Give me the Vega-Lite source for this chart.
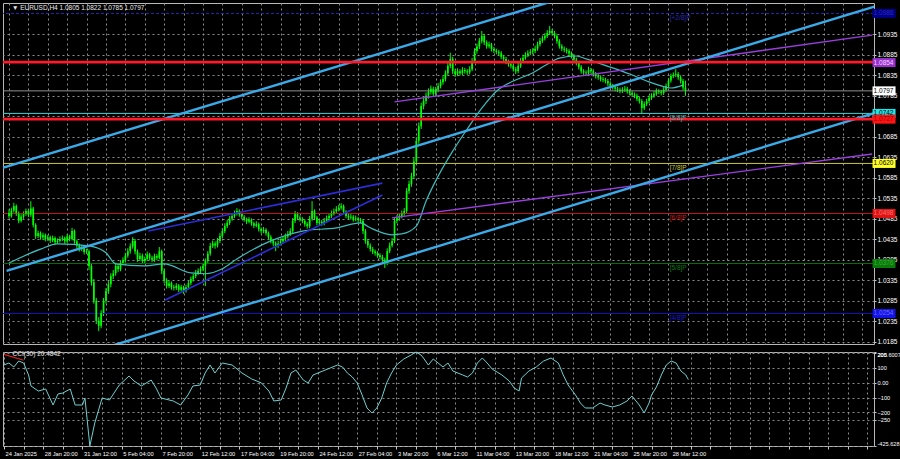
{
"$schema":"https://vega.github.io/schema/vega-lite/v6.json",
"background":"#000000",
"padding":{"left":1,"top":2,"right":0,"bottom":1},
"spacing":3,
"config":{"view":{"stroke":"#b8b8b8","strokeWidth":1},"font":"Liberation Sans","axis":{"labelColor":"#ffffff","labelFont":"Liberation Sans","labelFontSize":6.5,"domain":false,"gridColor":"#8c8c8c","gridDash":[2,3],"gridWidth":1,"tickColor":"#c8c8c8","labelOverlap":false,"labelBound":false}},
"datasets":{
"candles":[
{"i":0,"o":1.0500,"h":1.0508,"l":1.0486,"c":1.0492},{"i":1,"o":1.0492,"h":1.0512,"l":1.0488,"c":1.0505},{"i":2,"o":1.0505,"h":1.0524,"l":1.0500,"c":1.0516},{"i":3,"o":1.0516,"h":1.0520,"l":1.0492,"c":1.0498},{"i":4,"o":1.0498,"h":1.0503,"l":1.0474,"c":1.0480},{"i":5,"o":1.0480,"h":1.0496,"l":1.0476,"c":1.0490},{"i":6,"o":1.0490,"h":1.0503,"l":1.0485,"c":1.0497},{"i":7,"o":1.0497,"h":1.0510,"l":1.0492,"c":1.0504},{"i":8,"o":1.0504,"h":1.0508,"l":1.0489,"c":1.0495},{"i":9,"o":1.0495,"h":1.0528,"l":1.0490,"c":1.0510},
{"i":10,"o":1.0510,"h":1.0514,"l":1.0464,"c":1.0470},{"i":11,"o":1.0470,"h":1.0474,"l":1.0436,"c":1.0443},{"i":12,"o":1.0443,"h":1.0456,"l":1.0438,"c":1.0450},{"i":13,"o":1.0450,"h":1.0454,"l":1.0434,"c":1.0440},{"i":14,"o":1.0440,"h":1.0451,"l":1.0435,"c":1.0445},{"i":15,"o":1.0445,"h":1.0449,"l":1.0430,"c":1.0436},{"i":16,"o":1.0436,"h":1.0446,"l":1.0431,"c":1.0440},{"i":17,"o":1.0440,"h":1.0444,"l":1.0426,"c":1.0432},{"i":18,"o":1.0432,"h":1.0444,"l":1.0428,"c":1.0438},{"i":19,"o":1.0438,"h":1.0442,"l":1.0422,"c":1.0428},
{"i":20,"o":1.0428,"h":1.0437,"l":1.0424,"c":1.0431},{"i":21,"o":1.0431,"h":1.0442,"l":1.0427,"c":1.0436},{"i":22,"o":1.0436,"h":1.0444,"l":1.0431,"c":1.0438},{"i":23,"o":1.0438,"h":1.0442,"l":1.0424,"c":1.0430},{"i":24,"o":1.0430,"h":1.0448,"l":1.0426,"c":1.0442},{"i":25,"o":1.0442,"h":1.0446,"l":1.0430,"c":1.0436},{"i":26,"o":1.0436,"h":1.0463,"l":1.0432,"c":1.0455},{"i":27,"o":1.0455,"h":1.0459,"l":1.0424,"c":1.0430},{"i":28,"o":1.0430,"h":1.0434,"l":1.0414,"c":1.0420},{"i":29,"o":1.0420,"h":1.0425,"l":1.0405,"c":1.0411},
{"i":30,"o":1.0411,"h":1.0421,"l":1.0406,"c":1.0415},{"i":31,"o":1.0415,"h":1.0419,"l":1.0398,"c":1.0404},{"i":32,"o":1.0404,"h":1.0412,"l":1.0399,"c":1.0406},{"i":33,"o":1.0406,"h":1.0410,"l":1.0360,"c":1.0370},{"i":34,"o":1.0370,"h":1.0376,"l":1.0322,"c":1.0330},{"i":35,"o":1.0330,"h":1.0338,"l":1.0278,"c":1.0285},{"i":36,"o":1.0285,"h":1.0292,"l":1.0228,"c":1.0236},{"i":37,"o":1.0236,"h":1.0245,"l":1.0211,"c":1.0224},{"i":38,"o":1.0224,"h":1.0262,"l":1.0218,"c":1.0255},{"i":39,"o":1.0255,"h":1.0292,"l":1.0248,"c":1.0285},
{"i":40,"o":1.0285,"h":1.0316,"l":1.0278,"c":1.0309},{"i":41,"o":1.0309,"h":1.0333,"l":1.0302,"c":1.0325},{"i":42,"o":1.0325,"h":1.0352,"l":1.0318,"c":1.0345},{"i":43,"o":1.0345,"h":1.0360,"l":1.0338,"c":1.0352},{"i":44,"o":1.0352,"h":1.0378,"l":1.0346,"c":1.0370},{"i":45,"o":1.0370,"h":1.0376,"l":1.0355,"c":1.0362},{"i":46,"o":1.0362,"h":1.0384,"l":1.0357,"c":1.0377},{"i":47,"o":1.0377,"h":1.0391,"l":1.0372,"c":1.0384},{"i":48,"o":1.0384,"h":1.0402,"l":1.0378,"c":1.0395},{"i":49,"o":1.0395,"h":1.0413,"l":1.0390,"c":1.0406},
{"i":50,"o":1.0406,"h":1.0425,"l":1.0400,"c":1.0418},{"i":51,"o":1.0418,"h":1.0440,"l":1.0412,"c":1.0431},{"i":52,"o":1.0431,"h":1.0436,"l":1.0398,"c":1.0405},{"i":53,"o":1.0405,"h":1.0410,"l":1.0380,"c":1.0387},{"i":54,"o":1.0387,"h":1.0402,"l":1.0382,"c":1.0395},{"i":55,"o":1.0395,"h":1.0400,"l":1.0376,"c":1.0382},{"i":56,"o":1.0382,"h":1.0393,"l":1.0377,"c":1.0387},{"i":57,"o":1.0387,"h":1.0405,"l":1.0382,"c":1.0398},{"i":58,"o":1.0398,"h":1.0402,"l":1.0384,"c":1.0390},{"i":59,"o":1.0390,"h":1.0395,"l":1.0379,"c":1.0385},
{"i":60,"o":1.0385,"h":1.0400,"l":1.0380,"c":1.0394},{"i":61,"o":1.0394,"h":1.0399,"l":1.0384,"c":1.0390},{"i":62,"o":1.0390,"h":1.0416,"l":1.0386,"c":1.0406},{"i":63,"o":1.0406,"h":1.0410,"l":1.0350,"c":1.0358},{"i":64,"o":1.0358,"h":1.0363,"l":1.0328,"c":1.0335},{"i":65,"o":1.0335,"h":1.0340,"l":1.0315,"c":1.0321},{"i":66,"o":1.0321,"h":1.0334,"l":1.0316,"c":1.0328},{"i":67,"o":1.0328,"h":1.0332,"l":1.0312,"c":1.0318},{"i":68,"o":1.0318,"h":1.0324,"l":1.0310,"c":1.0316},{"i":69,"o":1.0316,"h":1.0328,"l":1.0311,"c":1.0322},
{"i":70,"o":1.0322,"h":1.0326,"l":1.0306,"c":1.0312},{"i":71,"o":1.0312,"h":1.0324,"l":1.0308,"c":1.0318},{"i":72,"o":1.0318,"h":1.0322,"l":1.0302,"c":1.0309},{"i":73,"o":1.0309,"h":1.0324,"l":1.0305,"c":1.0318},{"i":74,"o":1.0318,"h":1.0334,"l":1.0313,"c":1.0328},{"i":75,"o":1.0328,"h":1.0344,"l":1.0323,"c":1.0338},{"i":76,"o":1.0338,"h":1.0351,"l":1.0332,"c":1.0345},{"i":77,"o":1.0345,"h":1.0360,"l":1.0340,"c":1.0353},{"i":78,"o":1.0353,"h":1.0364,"l":1.0348,"c":1.0358},{"i":79,"o":1.0358,"h":1.0369,"l":1.0352,"c":1.0363},
{"i":80,"o":1.0363,"h":1.0376,"l":1.0357,"c":1.0370},{"i":81,"o":1.0370,"h":1.0388,"l":1.0321,"c":1.0382},{"i":82,"o":1.0382,"h":1.0406,"l":1.0377,"c":1.0400},{"i":83,"o":1.0400,"h":1.0426,"l":1.0395,"c":1.0419},{"i":84,"o":1.0419,"h":1.0432,"l":1.0414,"c":1.0425},{"i":85,"o":1.0425,"h":1.0430,"l":1.0412,"c":1.0420},{"i":86,"o":1.0420,"h":1.0438,"l":1.0415,"c":1.0431},{"i":87,"o":1.0431,"h":1.0450,"l":1.0426,"c":1.0443},{"i":88,"o":1.0443,"h":1.0462,"l":1.0438,"c":1.0455},{"i":89,"o":1.0455,"h":1.0474,"l":1.0450,"c":1.0467},
{"i":90,"o":1.0467,"h":1.0482,"l":1.0462,"c":1.0475},{"i":91,"o":1.0475,"h":1.0492,"l":1.0470,"c":1.0485},{"i":92,"o":1.0485,"h":1.0498,"l":1.0480,"c":1.0492},{"i":93,"o":1.0492,"h":1.0505,"l":1.0487,"c":1.0498},{"i":94,"o":1.0498,"h":1.0511,"l":1.0493,"c":1.0504},{"i":95,"o":1.0504,"h":1.0508,"l":1.0490,"c":1.0496},{"i":96,"o":1.0496,"h":1.0500,"l":1.0484,"c":1.0490},{"i":97,"o":1.0490,"h":1.0494,"l":1.0478,"c":1.0484},{"i":98,"o":1.0484,"h":1.0488,"l":1.0472,"c":1.0478},{"i":99,"o":1.0478,"h":1.0489,"l":1.0474,"c":1.0482},
{"i":100,"o":1.0482,"h":1.0486,"l":1.0468,"c":1.0474},{"i":101,"o":1.0474,"h":1.0478,"l":1.0462,"c":1.0468},{"i":102,"o":1.0468,"h":1.0479,"l":1.0464,"c":1.0472},{"i":103,"o":1.0472,"h":1.0476,"l":1.0454,"c":1.0460},{"i":104,"o":1.0460,"h":1.0464,"l":1.0449,"c":1.0455},{"i":105,"o":1.0455,"h":1.0465,"l":1.0450,"c":1.0458},{"i":106,"o":1.0458,"h":1.0462,"l":1.0444,"c":1.0450},{"i":107,"o":1.0450,"h":1.0454,"l":1.0434,"c":1.0440},{"i":108,"o":1.0440,"h":1.0445,"l":1.0425,"c":1.0431},{"i":109,"o":1.0431,"h":1.0436,"l":1.0418,"c":1.0425},
{"i":110,"o":1.0425,"h":1.0430,"l":1.0406,"c":1.0419},{"i":111,"o":1.0419,"h":1.0432,"l":1.0414,"c":1.0425},{"i":112,"o":1.0425,"h":1.0437,"l":1.0420,"c":1.0430},{"i":113,"o":1.0430,"h":1.0443,"l":1.0425,"c":1.0436},{"i":114,"o":1.0436,"h":1.0449,"l":1.0431,"c":1.0442},{"i":115,"o":1.0442,"h":1.0455,"l":1.0437,"c":1.0448},{"i":116,"o":1.0448,"h":1.0462,"l":1.0443,"c":1.0455},{"i":117,"o":1.0455,"h":1.0487,"l":1.0450,"c":1.0480},{"i":118,"o":1.0480,"h":1.0504,"l":1.0475,"c":1.0497},{"i":119,"o":1.0497,"h":1.0501,"l":1.0482,"c":1.0488},
{"i":120,"o":1.0488,"h":1.0493,"l":1.0478,"c":1.0484},{"i":121,"o":1.0484,"h":1.0489,"l":1.0474,"c":1.0480},{"i":122,"o":1.0480,"h":1.0484,"l":1.0466,"c":1.0472},{"i":123,"o":1.0472,"h":1.0477,"l":1.0461,"c":1.0467},{"i":124,"o":1.0467,"h":1.0492,"l":1.0462,"c":1.0485},{"i":125,"o":1.0485,"h":1.0528,"l":1.0480,"c":1.0504},{"i":126,"o":1.0504,"h":1.0508,"l":1.0482,"c":1.0488},{"i":127,"o":1.0488,"h":1.0492,"l":1.0469,"c":1.0475},{"i":128,"o":1.0475,"h":1.0485,"l":1.0470,"c":1.0478},{"i":129,"o":1.0478,"h":1.0482,"l":1.0468,"c":1.0474},
{"i":130,"o":1.0474,"h":1.0487,"l":1.0469,"c":1.0480},{"i":131,"o":1.0480,"h":1.0493,"l":1.0475,"c":1.0486},{"i":132,"o":1.0486,"h":1.0499,"l":1.0481,"c":1.0492},{"i":133,"o":1.0492,"h":1.0505,"l":1.0487,"c":1.0498},{"i":134,"o":1.0498,"h":1.0510,"l":1.0493,"c":1.0503},{"i":135,"o":1.0503,"h":1.0516,"l":1.0498,"c":1.0509},{"i":136,"o":1.0509,"h":1.0519,"l":1.0503,"c":1.0512},{"i":137,"o":1.0512,"h":1.0523,"l":1.0507,"c":1.0516},{"i":138,"o":1.0516,"h":1.0520,"l":1.0496,"c":1.0502},{"i":139,"o":1.0502,"h":1.0506,"l":1.0486,"c":1.0492},
{"i":140,"o":1.0492,"h":1.0497,"l":1.0482,"c":1.0488},{"i":141,"o":1.0488,"h":1.0497,"l":1.0483,"c":1.0490},{"i":142,"o":1.0490,"h":1.0494,"l":1.0478,"c":1.0484},{"i":143,"o":1.0484,"h":1.0493,"l":1.0479,"c":1.0486},{"i":144,"o":1.0486,"h":1.0490,"l":1.0476,"c":1.0482},{"i":145,"o":1.0482,"h":1.0487,"l":1.0474,"c":1.0480},{"i":146,"o":1.0480,"h":1.0484,"l":1.0448,"c":1.0455},{"i":147,"o":1.0455,"h":1.0460,"l":1.0424,"c":1.0431},{"i":148,"o":1.0431,"h":1.0436,"l":1.0414,"c":1.0420},{"i":149,"o":1.0420,"h":1.0425,"l":1.0405,"c":1.0411},
{"i":150,"o":1.0411,"h":1.0416,"l":1.0399,"c":1.0405},{"i":151,"o":1.0405,"h":1.0410,"l":1.0395,"c":1.0401},{"i":152,"o":1.0401,"h":1.0406,"l":1.0390,"c":1.0396},{"i":153,"o":1.0396,"h":1.0401,"l":1.0386,"c":1.0392},{"i":154,"o":1.0392,"h":1.0397,"l":1.0379,"c":1.0385},{"i":155,"o":1.0385,"h":1.0390,"l":1.0365,"c":1.0377},{"i":156,"o":1.0377,"h":1.0413,"l":1.0372,"c":1.0406},{"i":157,"o":1.0406,"h":1.0427,"l":1.0401,"c":1.0420},{"i":158,"o":1.0420,"h":1.0438,"l":1.0415,"c":1.0431},{"i":159,"o":1.0431,"h":1.0487,"l":1.0426,"c":1.0480},
{"i":160,"o":1.0480,"h":1.0494,"l":1.0474,"c":1.0486},{"i":161,"o":1.0486,"h":1.0499,"l":1.0480,"c":1.0492},{"i":162,"o":1.0492,"h":1.0505,"l":1.0486,"c":1.0498},{"i":163,"o":1.0498,"h":1.0511,"l":1.0492,"c":1.0504},{"i":164,"o":1.0504,"h":1.0560,"l":1.0498,"c":1.0553},{"i":165,"o":1.0553,"h":1.0578,"l":1.0546,"c":1.0570},{"i":166,"o":1.0570,"h":1.0597,"l":1.0563,"c":1.0589},{"i":167,"o":1.0589,"h":1.0633,"l":1.0582,"c":1.0625},{"i":168,"o":1.0625,"h":1.0684,"l":1.0618,"c":1.0675},{"i":169,"o":1.0675,"h":1.0720,"l":1.0668,"c":1.0711},
{"i":170,"o":1.0711,"h":1.0768,"l":1.0704,"c":1.0760},{"i":171,"o":1.0760,"h":1.0781,"l":1.0752,"c":1.0772},{"i":172,"o":1.0772,"h":1.0793,"l":1.0765,"c":1.0785},{"i":173,"o":1.0785,"h":1.0803,"l":1.0778,"c":1.0795},{"i":174,"o":1.0795,"h":1.0810,"l":1.0788,"c":1.0802},{"i":175,"o":1.0802,"h":1.0807,"l":1.0782,"c":1.0790},{"i":176,"o":1.0790,"h":1.0807,"l":1.0784,"c":1.0800},{"i":177,"o":1.0800,"h":1.0816,"l":1.0794,"c":1.0809},{"i":178,"o":1.0809,"h":1.0825,"l":1.0803,"c":1.0818},{"i":179,"o":1.0818,"h":1.0833,"l":1.0812,"c":1.0826},
{"i":180,"o":1.0826,"h":1.0847,"l":1.0820,"c":1.0840},{"i":181,"o":1.0840,"h":1.0866,"l":1.0834,"c":1.0858},{"i":182,"o":1.0858,"h":1.0890,"l":1.0852,"c":1.0875},{"i":183,"o":1.0875,"h":1.0880,"l":1.0838,"c":1.0845},{"i":184,"o":1.0845,"h":1.0850,"l":1.0831,"c":1.0838},{"i":185,"o":1.0838,"h":1.0852,"l":1.0833,"c":1.0845},{"i":186,"o":1.0845,"h":1.0850,"l":1.0834,"c":1.0840},{"i":187,"o":1.0840,"h":1.0855,"l":1.0835,"c":1.0848},{"i":188,"o":1.0848,"h":1.0853,"l":1.0839,"c":1.0845},{"i":189,"o":1.0845,"h":1.0850,"l":1.0836,"c":1.0842},
{"i":190,"o":1.0842,"h":1.0857,"l":1.0837,"c":1.0850},{"i":191,"o":1.0850,"h":1.0877,"l":1.0845,"c":1.0870},{"i":192,"o":1.0870,"h":1.0901,"l":1.0865,"c":1.0894},{"i":193,"o":1.0894,"h":1.0912,"l":1.0888,"c":1.0905},{"i":194,"o":1.0905,"h":1.0926,"l":1.0899,"c":1.0919},{"i":195,"o":1.0919,"h":1.0943,"l":1.0913,"c":1.0931},{"i":196,"o":1.0931,"h":1.0936,"l":1.0909,"c":1.0915},{"i":197,"o":1.0915,"h":1.0920,"l":1.0900,"c":1.0906},{"i":198,"o":1.0906,"h":1.0917,"l":1.0901,"c":1.0910},{"i":199,"o":1.0910,"h":1.0914,"l":1.0893,"c":1.0899},
{"i":200,"o":1.0899,"h":1.0904,"l":1.0889,"c":1.0895},{"i":201,"o":1.0895,"h":1.0900,"l":1.0886,"c":1.0892},{"i":202,"o":1.0892,"h":1.0897,"l":1.0883,"c":1.0889},{"i":203,"o":1.0889,"h":1.0894,"l":1.0874,"c":1.0880},{"i":204,"o":1.0880,"h":1.0885,"l":1.0869,"c":1.0875},{"i":205,"o":1.0875,"h":1.0880,"l":1.0862,"c":1.0868},{"i":206,"o":1.0868,"h":1.0873,"l":1.0856,"c":1.0862},{"i":207,"o":1.0862,"h":1.0867,"l":1.0852,"c":1.0858},{"i":208,"o":1.0858,"h":1.0863,"l":1.0844,"c":1.0850},{"i":209,"o":1.0850,"h":1.0855,"l":1.0838,"c":1.0845},
{"i":210,"o":1.0845,"h":1.0865,"l":1.0840,"c":1.0858},{"i":211,"o":1.0858,"h":1.0877,"l":1.0853,"c":1.0870},{"i":212,"o":1.0870,"h":1.0885,"l":1.0865,"c":1.0878},{"i":213,"o":1.0878,"h":1.0891,"l":1.0873,"c":1.0884},{"i":214,"o":1.0884,"h":1.0896,"l":1.0879,"c":1.0889},{"i":215,"o":1.0889,"h":1.0899,"l":1.0884,"c":1.0892},{"i":216,"o":1.0892,"h":1.0901,"l":1.0886,"c":1.0894},{"i":217,"o":1.0894,"h":1.0907,"l":1.0889,"c":1.0900},{"i":218,"o":1.0900,"h":1.0917,"l":1.0895,"c":1.0910},{"i":219,"o":1.0910,"h":1.0926,"l":1.0905,"c":1.0919},
{"i":220,"o":1.0919,"h":1.0932,"l":1.0914,"c":1.0925},{"i":221,"o":1.0925,"h":1.0938,"l":1.0920,"c":1.0931},{"i":222,"o":1.0931,"h":1.0945,"l":1.0926,"c":1.0938},{"i":223,"o":1.0938,"h":1.0955,"l":1.0933,"c":1.0943},{"i":224,"o":1.0943,"h":1.0948,"l":1.0932,"c":1.0938},{"i":225,"o":1.0938,"h":1.0943,"l":1.0925,"c":1.0931},{"i":226,"o":1.0931,"h":1.0936,"l":1.0912,"c":1.0918},{"i":227,"o":1.0918,"h":1.0923,"l":1.0900,"c":1.0906},{"i":228,"o":1.0906,"h":1.0911,"l":1.0894,"c":1.0900},{"i":229,"o":1.0900,"h":1.0905,"l":1.0891,"c":1.0897},
{"i":230,"o":1.0897,"h":1.0902,"l":1.0888,"c":1.0894},{"i":231,"o":1.0894,"h":1.0899,"l":1.0882,"c":1.0888},{"i":232,"o":1.0888,"h":1.0893,"l":1.0876,"c":1.0882},{"i":233,"o":1.0882,"h":1.0887,"l":1.0867,"c":1.0873},{"i":234,"o":1.0873,"h":1.0878,"l":1.0859,"c":1.0865},{"i":235,"o":1.0865,"h":1.0870,"l":1.0849,"c":1.0855},{"i":236,"o":1.0855,"h":1.0860,"l":1.0839,"c":1.0845},{"i":237,"o":1.0845,"h":1.0850,"l":1.0836,"c":1.0842},{"i":238,"o":1.0842,"h":1.0847,"l":1.0834,"c":1.0840},{"i":239,"o":1.0840,"h":1.0856,"l":1.0835,"c":1.0848},
{"i":240,"o":1.0848,"h":1.0853,"l":1.0839,"c":1.0845},{"i":241,"o":1.0845,"h":1.0850,"l":1.0832,"c":1.0838},{"i":242,"o":1.0838,"h":1.0843,"l":1.0827,"c":1.0833},{"i":243,"o":1.0833,"h":1.0838,"l":1.0824,"c":1.0830},{"i":244,"o":1.0830,"h":1.0835,"l":1.0820,"c":1.0826},{"i":245,"o":1.0826,"h":1.0831,"l":1.0818,"c":1.0824},{"i":246,"o":1.0824,"h":1.0829,"l":1.0815,"c":1.0821},{"i":247,"o":1.0821,"h":1.0826,"l":1.0809,"c":1.0815},{"i":248,"o":1.0815,"h":1.0820,"l":1.0803,"c":1.0809},{"i":249,"o":1.0809,"h":1.0814,"l":1.0800,"c":1.0806},
{"i":250,"o":1.0806,"h":1.0811,"l":1.0796,"c":1.0802},{"i":251,"o":1.0802,"h":1.0807,"l":1.0794,"c":1.0800},{"i":252,"o":1.0800,"h":1.0805,"l":1.0791,"c":1.0797},{"i":253,"o":1.0797,"h":1.0806,"l":1.0792,"c":1.0800},{"i":254,"o":1.0800,"h":1.0809,"l":1.0795,"c":1.0802},{"i":255,"o":1.0802,"h":1.0807,"l":1.0790,"c":1.0796},{"i":256,"o":1.0796,"h":1.0801,"l":1.0786,"c":1.0792},{"i":257,"o":1.0792,"h":1.0797,"l":1.0782,"c":1.0788},{"i":258,"o":1.0788,"h":1.0793,"l":1.0779,"c":1.0785},{"i":259,"o":1.0785,"h":1.0790,"l":1.0772,"c":1.0778},
{"i":260,"o":1.0778,"h":1.0783,"l":1.0766,"c":1.0772},{"i":261,"o":1.0772,"h":1.0777,"l":1.0741,"c":1.0755},{"i":262,"o":1.0755,"h":1.0771,"l":1.0750,"c":1.0765},{"i":263,"o":1.0765,"h":1.0778,"l":1.0760,"c":1.0772},{"i":264,"o":1.0772,"h":1.0786,"l":1.0767,"c":1.0780},{"i":265,"o":1.0780,"h":1.0791,"l":1.0775,"c":1.0785},{"i":266,"o":1.0785,"h":1.0796,"l":1.0780,"c":1.0790},{"i":267,"o":1.0790,"h":1.0803,"l":1.0785,"c":1.0797},{"i":268,"o":1.0797,"h":1.0801,"l":1.0789,"c":1.0795},{"i":269,"o":1.0795,"h":1.0799,"l":1.0786,"c":1.0792},
{"i":270,"o":1.0792,"h":1.0806,"l":1.0787,"c":1.0800},{"i":271,"o":1.0800,"h":1.0815,"l":1.0795,"c":1.0809},{"i":272,"o":1.0809,"h":1.0828,"l":1.0804,"c":1.0822},{"i":273,"o":1.0822,"h":1.0839,"l":1.0817,"c":1.0833},{"i":274,"o":1.0833,"h":1.0842,"l":1.0828,"c":1.0836},{"i":275,"o":1.0836,"h":1.0850,"l":1.0831,"c":1.0838},{"i":276,"o":1.0838,"h":1.0843,"l":1.0824,"c":1.0830},{"i":277,"o":1.0830,"h":1.0835,"l":1.0815,"c":1.0821},{"i":278,"o":1.0821,"h":1.0826,"l":1.0799,"c":1.0805},{"i":279,"o":1.0805,"h":1.0822,"l":1.0785,"c":1.0797}
],
"ma":[{"i":0,"v":1.0377},{"i":13,"v":1.0411},{"i":20,"v":1.0424},{"i":33,"v":1.0419},{"i":40,"v":1.0402},{"i":44,"v":1.0375},{"i":56,"v":1.0370},{"i":64,"v":1.0375},{"i":75,"v":1.0353},{"i":81,"v":1.0351},{"i":88,"v":1.0363},{"i":94,"v":1.0387},{"i":108,"v":1.0431},{"i":121,"v":1.0455},{"i":135,"v":1.0463},{"i":145,"v":1.0475},{"i":149,"v":1.0463},{"i":158,"v":1.0446},{"i":162,"v":1.0448},{"i":168,"v":1.0467},{"i":172,"v":1.0528},{"i":177,"v":1.0589},{"i":183,"v":1.0650},{"i":189,"v":1.0704},{"i":195,"v":1.0755},{"i":202,"v":1.0801},{"i":208,"v":1.0821},{"i":215,"v":1.0838},{"i":222,"v":1.0862},{"i":227,"v":1.0877},{"i":234,"v":1.0882},{"i":238,"v":1.0875},{"i":243,"v":1.0865},{"i":249,"v":1.0853},{"i":256,"v":1.0838},{"i":263,"v":1.0821},{"i":269,"v":1.0809},{"i":273,"v":1.0804},{"i":278,"v":1.0811}],
"trend":[
{"g":"ch1","k":"ch","i":-10,"p":1.0596},{"g":"ch1","k":"ch","i":360,"p":1.1259},
{"g":"ch2","k":"ch","i":-1,"p":1.0358},{"g":"ch2","k":"ch","i":360,"p":1.1008},
{"g":"ch3","k":"ch","i":30,"p":1.0153},{"g":"ch3","k":"ch","i":360,"p":1.0748},
{"g":"pu1","k":"pu","i":159,"p":1.0770},{"g":"pu1","k":"pu","i":356,"p":1.0933},
{"g":"pu2","k":"pu","i":158,"p":1.0487},{"g":"pu2","k":"pu","i":356,"p":1.0643},
{"g":"bl1","k":"bl","i":57.5,"p":1.0455},{"g":"bl1","k":"bl","i":154,"p":1.0572},
{"g":"bl2","k":"bl","i":64.4,"p":1.0287},{"g":"bl2","k":"bl","i":154,"p":1.0543}
],
"levels":[{"n":"price","p":1.0797},{"n":"8/8","p":1.0742},{"n":"7/8","p":1.0620},{"n":"6/8","p":1.0498},{"n":"5/8","p":1.0376},{"n":"4/8","p":1.0254}],
"dashlevel":[{"n":"+2/8","p":1.0986}],
"redlines":[{"n":"+1/8","p":1.0867},{"n":"r","p":1.0728}],
"mtext":[{"t":"[+2/8]P","p":1.0986},{"t":"[8/8]P","p":1.0742},{"t":"[7/8]P","p":1.0620},{"t":"[6/8]P","p":1.0498},{"t":"[5/8]P","p":1.0376},{"t":"[4/8]P","p":1.0254}],
"tags":[{"n":"+2/8","p":1.0986,"t":"1.0986"},{"n":"pu","p":1.0866,"t":"1.0854"},{"n":"price","p":1.0797,"t":"1.0797"},{"n":"8/8","p":1.0742,"t":"1.0742"},{"n":"red","p":1.0728,"t":"1.0727"},{"n":"7/8","p":1.0620,"t":"1.0620"},{"n":"6/8","p":1.0498,"t":"1.0498"},{"n":"5/8","p":1.0376,"t":"1.0376"},{"n":"4/8","p":1.0254,"t":"1.0254"}],
"head":[{"t":"▼ EURUSD,H4  1.0805 1.0822 1.0785 1.0797"}],
"ccihead":[{"t":"CCI(30) 20.4842"}],
"dates":[{"i":0,"t":"24 Jan 2025"},{"i":16,"t":"28 Jan 20:00"},{"i":32,"t":"31 Jan 12:00"},{"i":48,"t":"5 Feb 04:00"},{"i":64,"t":"7 Feb 20:00"},{"i":80,"t":"12 Feb 12:00"},{"i":96,"t":"17 Feb 04:00"},{"i":112,"t":"19 Feb 20:00"},{"i":128,"t":"24 Feb 12:00"},{"i":144,"t":"27 Feb 04:00"},{"i":160,"t":"3 Mar 20:00"},{"i":176,"t":"6 Mar 12:00"},{"i":192,"t":"11 Mar 04:00"},{"i":208,"t":"13 Mar 20:00"},{"i":224,"t":"18 Mar 12:00"},{"i":240,"t":"21 Mar 04:00"},{"i":256,"t":"25 Mar 20:00"},{"i":272,"t":"28 Mar 12:00"}],
"cci":[{"i":0,"v":118.3},{"i":2,"v":131.7},{"i":4,"v":104.9},{"i":6,"v":145.2},{"i":8,"v":131.7},{"i":10,"v":51.2},{"i":11,"v":-22.7},{"i":14,"v":-56.3},{"i":17,"v":-42.9},{"i":20,"v":-150.3},{"i":22,"v":-76.4},{"i":24,"v":-69.7},{"i":27,"v":-42.9},{"i":29,"v":-150.3},{"i":32,"v":-150.3},{"i":33,"v":-103.3},{"i":35,"v":-425.6},{"i":37,"v":-271.2},{"i":40,"v":-103.3},{"i":43,"v":-116.7},{"i":47,"v":-16},{"i":51,"v":44.4},{"i":53,"v":10.9},{"i":56,"v":-22.7},{"i":60,"v":17.6},{"i":62,"v":-36.1},{"i":64,"v":-103.3},{"i":69,"v":-123.4},{"i":72,"v":-150.3},{"i":75,"v":-83.1},{"i":77,"v":-22.7},{"i":80,"v":-16},{"i":82,"v":64.6},{"i":84,"v":118.3},{"i":86,"v":64.6},{"i":89,"v":131.7},{"i":93,"v":118.3},{"i":97,"v":64.6},{"i":101,"v":24.3},{"i":105,"v":-2.5},{"i":108,"v":-56.3},{"i":110,"v":-123.4},{"i":113,"v":-116.7},{"i":115,"v":-36.1},{"i":117,"v":64.6},{"i":119,"v":84.7},{"i":122,"v":17.6},{"i":124,"v":-2.5},{"i":126,"v":51.2},{"i":130,"v":78},{"i":133,"v":98.2},{"i":136,"v":118.3},{"i":138,"v":104.9},{"i":140,"v":64.6},{"i":142,"v":37.7},{"i":144,"v":-2.5},{"i":146,"v":-83.1},{"i":148,"v":-170.4},{"i":150,"v":-204},{"i":152,"v":-170.4},{"i":154,"v":-103.3},{"i":156,"v":-2.5},{"i":158,"v":64.6},{"i":160,"v":118.3},{"i":163,"v":158.6},{"i":166,"v":185.5},{"i":168,"v":205.6},{"i":170,"v":185.5},{"i":171,"v":165.3},{"i":173,"v":118.3},{"i":175,"v":158.6},{"i":177,"v":131.7},{"i":179,"v":104.9},{"i":181,"v":131.7},{"i":183,"v":78},{"i":187,"v":51.2},{"i":189,"v":37.7},{"i":191,"v":64.6},{"i":193,"v":131.7},{"i":195,"v":165.3},{"i":197,"v":131.7},{"i":199,"v":91.4},{"i":203,"v":51.2},{"i":206,"v":10.9},{"i":208,"v":-36.1},{"i":210,"v":-56.3},{"i":211,"v":31},{"i":214,"v":78},{"i":217,"v":104.9},{"i":220,"v":145.2},{"i":223,"v":165.3},{"i":226,"v":131.7},{"i":228,"v":51.2},{"i":230,"v":-16},{"i":233,"v":-83.1},{"i":235,"v":-137},{"i":237,"v":-170.4},{"i":240,"v":-170.4},{"i":243,"v":-137},{"i":245,"v":-150.3},{"i":248,"v":-163.7},{"i":251,"v":-150.3},{"i":254,"v":-123.4},{"i":256,"v":-90},{"i":259,"v":-150.3},{"i":261,"v":-204},{"i":263,"v":-137},{"i":264,"v":-83.1},{"i":266,"v":-29.4},{"i":268,"v":51.2},{"i":270,"v":118.3},{"i":272,"v":145.2},{"i":274,"v":131.7},{"i":276,"v":78},{"i":278,"v":51.2},{"i":279,"v":20.48}],
"sig":[{"i":0,"v":190},{"i":8,"v":150}]
},
"vconcat":[
{"width":871,"height":341,
"layer":[
{"data":{"name":"candles"},"mark":{"type":"rule","color":"#00ff00","strokeWidth":1},
"encoding":{"x":{"field":"i","type":"quantitative","title":null,"scale":{"domain":[-0.41,354.7],"nice":false,"zero":false},"axis":{"values":[0,8,16,24,32,40,48,56,64,72,80,88,96,104,112,120,128,136,144,152,160,168,176,184,192,200,208,216,224,232,240,248,256,264,272,280,288,296,304,312,320,328,336,344,352],"tickCount":200,"labels":false,"ticks":false,"grid":true}},
"y":{"field":"l","type":"quantitative","title":null,"scale":{"domain":[1.01796,1.10113],"nice":false,"zero":false},"axis":{"orient":"right","values":[1.0185,1.0235,1.0285,1.0335,1.0385,1.0435,1.0485,1.0535,1.0585,1.0635,1.0685,1.0735,1.0785,1.0835,1.0885,1.0935],"tickCount":200,"labelExpr":"datum.value == 1.0735 ? '' : format(datum.value, '.4f')","grid":true,"tickSize":2,"labelPadding":1,"labelFlush":false,"labelOverlap":false}},
"y2":{"field":"h"}}},
{"data":{"name":"levels"},"mark":{"type":"rule","strokeWidth":1},
"encoding":{"y":{"field":"p","type":"quantitative","title":null,"scale":{"domain":[1.01796,1.10113],"nice":false,"zero":false}},
"stroke":{"field":"n","type":"nominal","legend":null,"scale":{"domain":["price","8/8","7/8","6/8","5/8","4/8"],"range":["#8f8f8f","#35d4d4","#c8c83a","#c01818","#087008","#1010c0"]}}}},
{"data":{"name":"dashlevel"},"mark":{"type":"rule","strokeWidth":1,"color":"#2a2ab4","strokeDash":[3,2]},
"encoding":{"y":{"field":"p","type":"quantitative","title":null,"scale":{"domain":[1.01796,1.10113],"nice":false,"zero":false}}}},
{"data":{"name":"candles"},"mark":{"type":"bar","width":1.7,"color":"#00ff00"},
"encoding":{"x":{"field":"i","type":"quantitative","title":null,"scale":{"domain":[-0.41,354.7],"nice":false,"zero":false}},
"y":{"field":"o","type":"quantitative","title":null,"scale":{"domain":[1.01796,1.10113],"nice":false,"zero":false}},"y2":{"field":"c"}}},
{"data":{"name":"ma"},"mark":{"type":"line","color":"#3fbcbc","strokeWidth":1.2,"interpolate":"monotone"},
"encoding":{"x":{"field":"i","type":"quantitative","title":null,"scale":{"domain":[-0.41,354.7],"nice":false,"zero":false}},
"y":{"field":"v","type":"quantitative","title":null,"scale":{"domain":[1.01796,1.10113],"nice":false,"zero":false}}}},
{"data":{"name":"trend"},"transform":[{"filter":"datum.k == 'bl'"}],"mark":{"type":"line","color":"#2c2cd8","strokeWidth":1.6,"clip":true},
"encoding":{"x":{"field":"i","type":"quantitative","title":null,"scale":{"domain":[-0.41,354.7],"nice":false,"zero":false}},
"y":{"field":"p","type":"quantitative","title":null,"scale":{"domain":[1.01796,1.10113],"nice":false,"zero":false}},"detail":{"field":"g"}}},
{"data":{"name":"trend"},"transform":[{"filter":"datum.k == 'pu'"}],"mark":{"type":"line","color":"#9a3ee0","strokeWidth":1.3,"clip":true},
"encoding":{"x":{"field":"i","type":"quantitative","title":null,"scale":{"domain":[-0.41,354.7],"nice":false,"zero":false}},
"y":{"field":"p","type":"quantitative","title":null,"scale":{"domain":[1.01796,1.10113],"nice":false,"zero":false}},"detail":{"field":"g"}}},
{"data":{"name":"trend"},"transform":[{"filter":"datum.k == 'ch'"}],"mark":{"type":"line","color":"#3aaae8","strokeWidth":2.4,"clip":true},
"encoding":{"x":{"field":"i","type":"quantitative","title":null,"scale":{"domain":[-0.41,354.7],"nice":false,"zero":false}},
"y":{"field":"p","type":"quantitative","title":null,"scale":{"domain":[1.01796,1.10113],"nice":false,"zero":false}},"detail":{"field":"g"}}},
{"data":{"name":"redlines"},"mark":{"type":"rule","color":"#ff1a2a","strokeWidth":2.6},
"encoding":{"y":{"field":"p","type":"quantitative","title":null,"scale":{"domain":[1.01796,1.10113],"nice":false,"zero":false}}}},
{"data":{"name":"mtext"},"mark":{"type":"text","align":"left","baseline":"middle","dy":4.5,"fontSize":6.5},
"encoding":{"x":{"datum":272.5,"type":"quantitative","scale":{"domain":[-0.41,354.7],"nice":false,"zero":false}},
"y":{"field":"p","type":"quantitative","title":null,"scale":{"domain":[1.01796,1.10113],"nice":false,"zero":false}},"text":{"field":"t"},
"color":{"field":"t","type":"nominal","legend":null,"scale":{"domain":["+2/8","pu","price","8/8","red","7/8","6/8","5/8","4/8","[+2/8]P","[8/8]P","[7/8]P","[6/8]P","[5/8]P","[4/8]P"],"range":["#2a2ab0","#f0d8ff","#000000","#000000","#900000","#000000","#ff7070","#38b038","#6a6aff","#2a2ab0","#5aa0a0","#c8c83a","#c81e1e","#0a7a0a","#1a1ad0"]}}}},
{"data":{"name":"tags"},"mark":{"type":"tick","orient":"horizontal","size":23,"thickness":9,"filled":true,"opacity":1},
"encoding":{"x":{"datum":360.9,"type":"quantitative","scale":{"domain":[-0.41,354.7],"nice":false,"zero":false}},
"y":{"field":"p","type":"quantitative","title":null,"scale":{"domain":[1.01796,1.10113],"nice":false,"zero":false}},
"fill":{"field":"n","type":"nominal","legend":null,"scale":{"domain":["+2/8","pu","price","8/8","red","7/8","6/8","5/8","4/8"],"range":["#00008c","#9932cc","#ffffff","#22e4e4","#ff1414","#ffff28","#e01414","#0a7a0a","#1414e6"]}}}},
{"data":{"name":"tags"},"mark":{"type":"text","align":"left","baseline":"middle","fontSize":6.5},
"encoding":{"x":{"datum":356.6,"type":"quantitative","scale":{"domain":[-0.41,354.7],"nice":false,"zero":false}},
"y":{"field":"p","type":"quantitative","title":null,"scale":{"domain":[1.01796,1.10113],"nice":false,"zero":false}},"text":{"field":"t"},
"color":{"field":"n","type":"nominal","legend":null,"scale":{"domain":["+2/8","pu","price","8/8","red","7/8","6/8","5/8","4/8","[+2/8]P","[8/8]P","[7/8]P","[6/8]P","[5/8]P","[4/8]P"],"range":["#2a2ab0","#f0d8ff","#000000","#000000","#900000","#000000","#ff7070","#38b038","#6a6aff","#2a2ab0","#5aa0a0","#c8c83a","#c81e1e","#0a7a0a","#1a1ad0"]}}}},
{"data":{"name":"head"},"mark":{"type":"text","align":"left","baseline":"middle","fontSize":6.5,"color":"#e8e8e8"},
"encoding":{"x":{"datum":1.2,"type":"quantitative","scale":{"domain":[-0.41,354.7],"nice":false,"zero":false}},
"y":{"datum":1.0999,"type":"quantitative","scale":{"domain":[1.01796,1.10113],"nice":false,"zero":false}},"text":{"field":"t"}}}
]},
{"width":871,"height":94,
"layer":[
{"data":{"name":"cci"},"mark":{"type":"line","color":"#6fd0d0","strokeWidth":1},
"encoding":{"x":{"field":"i","type":"quantitative","title":null,"scale":{"domain":[-0.41,354.7],"nice":false,"zero":false},"axis":{"values":[0,8,16,24,32,40,48,56,64,72,80,88,96,104,112,120,128,136,144,152,160,168,176,184,192,200,208,216,224,232,240,248,256,264,272,280,288,296,304,312,320,328,336,344,352],"tickCount":200,"grid":true,"tickSize":3,"labels":false}},
"y":{"field":"v","type":"quantitative","title":null,"scale":{"domain":[-425.628,205.6007],"nice":false,"zero":false},"axis":{"orient":"right","values":[205.6007,200,100,0,-100,-200,-250,-425.628],"tickCount":200,"labelFontSize":5.6,"tickSize":2,"labelPadding":1,"labelFlush":true,"labelOverlap":false,"grid":true,"labelExpr":"datum.value == 0 ? '0.00' : (datum.value == 205.6007 ? '205.6007' : (datum.value == -425.628 ? '-425.628' : format(datum.value, 'd')))"}}}},
{"data":{"name":"sig"},"mark":{"type":"line","color":"#e02020","strokeWidth":1.2,"clip":true},
"encoding":{"x":{"field":"i","type":"quantitative","title":null,"scale":{"domain":[-0.41,354.7],"nice":false,"zero":false}},
"y":{"field":"v","type":"quantitative","title":null,"scale":{"domain":[-425.628,205.6007],"nice":false,"zero":false}}}},
{"data":{"name":"dates"},"mark":{"type":"text","align":"left","baseline":"top","dx":1.5,"dy":5,"fontSize":5.7,"color":"#ffffff"},
"encoding":{"x":{"field":"i","type":"quantitative","title":null,"scale":{"domain":[-0.41,354.7],"nice":false,"zero":false}},
"y":{"datum":-425.628,"type":"quantitative","scale":{"domain":[-425.628,205.6007],"nice":false,"zero":false}},"text":{"field":"t"}}},
{"data":{"name":"ccihead"},"mark":{"type":"text","align":"left","baseline":"middle","fontSize":6.5,"color":"#e8e8e8"},
"encoding":{"x":{"datum":3.5,"type":"quantitative","scale":{"domain":[-0.41,354.7],"nice":false,"zero":false}},
"y":{"datum":192,"type":"quantitative","scale":{"domain":[-425.628,205.6007],"nice":false,"zero":false}},"text":{"field":"t"}}}
]}
]
}
